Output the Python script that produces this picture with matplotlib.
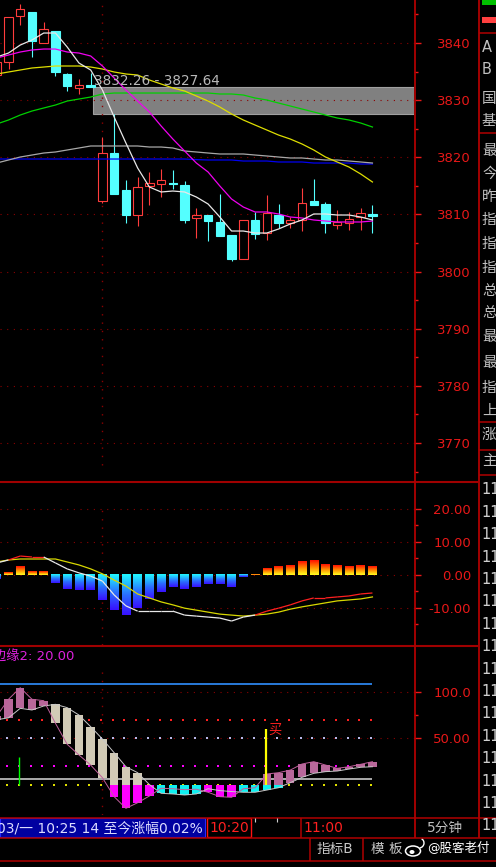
import numpy as np
import matplotlib
matplotlib.use('Agg')
import matplotlib.pyplot as plt
from matplotlib.colors import LinearSegmentedColormap
from matplotlib.collections import LineCollection
from matplotlib.patches import Rectangle, Ellipse, Arc

plt.rcParams['font.family'] = ['DejaVu Sans', 'Noto Sans CJK SC']

# ---- 5 minute bars (bar 0 is cut by the left edge) ----
opens = [3834.40, 3836.68, 3844.73, 3845.43, 3840.00, 3842.10, 3834.58, 3832.13, 3832.65,
         3812.35, 3820.75, 3814.28, 3809.90, 3814.98, 3815.33, 3815.50, 3815.15, 3809.38,
         3809.90, 3808.68, 3806.40, 3802.20, 3809.03, 3806.75, 3809.90, 3808.50, 3809.03,
         3812.35, 3811.83, 3808.15, 3808.50, 3809.55, 3810.08]
highs = [3837.00, 3844.55, 3846.83, 3845.43, 3843.68, 3842.10, 3834.75, 3833.70, 3834.75,
         3823.55, 3827.64, 3816.03, 3816.55, 3817.43, 3817.95, 3817.78, 3815.85, 3811.13,
         3809.90, 3813.58, 3806.40, 3809.03, 3810.43, 3813.40, 3811.83, 3809.55, 3814.63,
         3816.20, 3812.18, 3810.78, 3810.43, 3811.13, 3811.66]
lows = [3834.00, 3835.45, 3843.15, 3837.55, 3840.00, 3834.23, 3831.60, 3831.08, 3832.26,
        3812.00, 3813.58, 3808.50, 3807.98, 3811.66, 3813.05, 3814.45, 3808.50, 3805.88,
        3805.35, 3806.23, 3801.85, 3802.20, 3805.70, 3805.53, 3807.63, 3807.63, 3807.10,
        3811.66, 3806.75, 3807.45, 3807.28, 3807.28, 3806.75]
closes = [3836.70, 3844.55, 3845.95, 3840.35, 3842.45, 3834.93, 3832.48, 3832.65, 3832.26,
          3820.75, 3813.58, 3809.90, 3814.80, 3815.50, 3816.03, 3815.33, 3809.03, 3809.90,
          3808.85, 3806.23, 3802.20, 3809.03, 3806.58, 3810.25, 3808.50, 3809.03, 3812.00,
          3811.66, 3808.50, 3808.68, 3809.20, 3810.25, 3809.73]

ma_white = [3837.55, 3838.25, 3839.65, 3840.53, 3841.75, 3841.75, 3839.30, 3836.50, 3835.28,
            3831.78, 3827.05, 3822.50, 3818.13, 3814.80, 3813.93, 3814.10, 3813.93, 3813.05,
            3811.83, 3809.55, 3807.10, 3807.10, 3806.75, 3806.75, 3807.45, 3808.33, 3809.03,
            3810.08, 3810.08, 3809.90, 3809.90, 3809.55, 3809.03]
ma_magenta = [3837.38, 3837.90, 3838.43, 3838.78, 3838.95, 3838.95, 3838.43, 3838.25, 3837.73,
              3835.98, 3833.88, 3831.78, 3829.85, 3827.93, 3825.48, 3823.20, 3821.10, 3819.00,
              3817.43, 3814.98, 3812.70, 3811.30, 3810.43, 3810.43, 3810.08, 3809.55, 3809.38,
              3809.03, 3808.85, 3808.68, 3808.68, 3808.68, 3808.85]
ma_yellow = [3834.58, 3834.93, 3835.28, 3835.63, 3835.80, 3835.98, 3835.98, 3835.98, 3835.80,
             3835.45, 3834.93, 3834.58, 3834.40, 3833.53, 3832.83, 3832.13, 3831.60, 3830.73,
             3829.85, 3828.80, 3827.58, 3826.53, 3825.65, 3824.78, 3823.90, 3823.20, 3822.33,
             3821.28, 3820.05, 3819.18, 3818.30, 3817.08, 3815.68]
ma_green = [3825.83, 3826.53, 3827.40, 3828.10, 3828.63, 3829.15, 3829.85, 3830.20, 3830.55,
            3831.08, 3831.25, 3831.25, 3831.25, 3831.25, 3831.25, 3831.25, 3831.25, 3831.25,
            3831.25, 3831.08, 3831.08, 3830.90, 3830.38, 3830.03, 3829.50, 3828.98, 3828.45,
            3827.93, 3827.40, 3826.88, 3826.53, 3826.00, 3825.30]
ma_gray = [3819.00, 3819.53, 3820.05, 3820.40, 3820.75, 3820.93, 3821.28, 3821.63, 3821.98,
           3821.98, 3821.98, 3821.98, 3821.98, 3821.80, 3821.80, 3821.63, 3821.10, 3820.93,
           3820.75, 3820.58, 3820.58, 3820.58, 3820.40, 3820.23, 3820.05, 3819.88, 3819.88,
           3819.70, 3819.53, 3819.53, 3819.35, 3819.18, 3819.00]
ma_blue = [3819.70, 3819.70, 3819.70, 3819.70, 3819.70, 3819.70, 3819.70, 3819.70, 3819.70,
           3819.70, 3819.70, 3819.70, 3819.70, 3819.70, 3819.70, 3819.70, 3819.70, 3819.60,
           3819.53, 3819.53, 3819.53, 3819.35, 3819.35, 3819.35, 3819.18, 3819.18, 3819.18,
           3819.00, 3819.00, 3819.00, 3819.00, 3818.83, 3818.83]

gap_bar = 8
gap_hi, gap_lo = 3832.26, 3827.64
cursor_bar = 9

price_ticks = [3770, 3780, 3790, 3800, 3810, 3820, 3830, 3840]

# ---- MACD ----
macd_hist = [-1.5, 0.9, 2.6, 1.0, 1.0, -2.5, -4.4, -4.7, -4.7, -7.7, -10.8, -12.3, -10.1,
             -7.4, -5.2, -3.7, -4.4, -3.7, -2.9, -2.9, -3.7, -0.9, 0.3, 2.1, 2.6, 2.9, 4.1,
             4.4, 3.2, 2.9, 2.6, 2.9, 2.6]
dif = [3.5, 4.4, 5.6, 5.3, 5.3, 3.5, 1.7, 0.5, -0.5, -2.0, -6.2, -9.5, -11.1, -11.1, -11.1,
       -11.1, -12.3, -12.6, -12.9, -13.2, -14.1, -12.9, -12.3, -11.1, -10.2, -9.2, -8.0, -7.1,
       -7.1, -6.8, -6.5, -5.9, -5.6]
dea = [3.8, 4.4, 4.7, 4.7, 4.7, 4.7, 3.8, 2.9, 1.7, 0.2, -1.7, -3.5, -5.9, -7.1, -8.3, -9.2,
       -10.2, -10.8, -11.4, -12.0, -12.3, -12.6, -12.3, -12.0, -11.4, -10.5, -9.8, -9.2, -8.6,
       -8.0, -7.7, -7.4, -6.8]

# ---- third indicator ----
osc_fast = [74, 91.9, 104.3, 91.9, 90.4, 66.1, 43.6, 32.2, 21.4, 7.8, -12.5, -25, -19, -11.8,
            -3.5, -4, -5, -4.5, -7.8, -12.5, -13.2, -4, -3, 11.8, 13.2, 16, 22.5, 25, 21.4,
            17.9, 19.6, 22.2, 25]
osc_slow = [70, 72, 82.2, 80.4, 84.7, 86.5, 82.9, 75, 62.5, 49.3, 34.6, 19.6, 13.2, 0.5,
            -8.9, -9.6, -10.7, -9.6, -4, -6, -7, -7.8, -7.8, -5.4, -2.9, 2.5, 8.2, 12.5, 14.3,
            15, 17.1, 19, 19.6]
dot_levels = [70, 50, 20, 0]
dot_colors = ['#ff2020', '#b8b8e8', '#ff00ff', '#e0e000']
upper_level = 108
base_level = 6
buy_bar, buy_level = 23, 60
sell_bar, sell_level = 2, 30

idx = np.arange(len(closes))

# ---- layout (pixels) ----
W, H = 496, 867
BAR_PX = 11.74
X0_PX = -3.24
PLOT_R = 414
XL = (0 - X0_PX) / BAR_PX
XR = (PLOT_R - X0_PX) / BAR_PX
RED = '#e81818'
FRAME = '#b00000'
GRID = '#8c0000'
BW = 0.72

fig = plt.figure(figsize=(W / 100, H / 100), dpi=100, facecolor='black')


def panel(top, bottom):
    return fig.add_axes([0, 1 - bottom / H, PLOT_R / W, (bottom - top) / H])


def style(ax, ylim, major, labels, minor):
    ax.set_facecolor('black')
    for s in ax.spines.values():
        s.set_visible(False)
    ax.set_xticks([])
    ax.yaxis.tick_right()
    ax.set_yticks(major)
    ax.set_yticklabels(labels)
    ax.set_yticks(minor, minor=True)
    ax.tick_params(axis='y', which='major', length=5, width=1, color=RED,
                   labelcolor=RED, labelsize=9.5, pad=36)
    ax.tick_params(axis='y', which='minor', length=3, width=1, color=RED)
    for t in ax.get_yticklabels():
        t.set_ha('right')
    ax.grid(axis='y', which='major', color=GRID, lw=0.8, ls=(0, (1, 5)))
    ax.set_xlim(XL, XR)
    ax.set_ylim(*ylim)


# ================= main price panel =================
ax = panel(0, 481)
style(ax, (3763.35, 3847.53), price_ticks, [str(v) for v in price_ticks],
      [v - 5 for v in price_ticks] + [3845])
ax.axvline(cursor_bar, 0.033, 1, color=GRID, lw=1, ls=(0, (1, 5)))

ax.add_patch(Rectangle((gap_bar + 0.2, gap_lo), XR - gap_bar, gap_hi - gap_lo,
                       fc='#808080', ec='#a0a0a0', lw=0.8, zorder=1.5))
ax.text(gap_bar + 0.28, 3832.7, '%.2f - %.2f' % (gap_hi, gap_lo), color='#b8b8b8',
        fontsize=9.8, ha='left', va='baseline', zorder=6)

for i, o, h, l, c in zip(idx, opens, highs, lows, closes):
    up = c >= o
    col = '#ff3c3c' if up else '#54ffff'
    b0, b1 = min(o, c), max(o, c)
    ax.vlines(i, l, b0, color=col, lw=0.8, zorder=3)
    ax.vlines(i, b1, h, color=col, lw=0.8, zorder=3)
    ax.add_patch(Rectangle((i - BW / 2, b0), BW, b1 - b0, fc='black' if up else col,
                           ec=col, lw=0.8, zorder=3))

for series, col in [(ma_blue, '#0000f0'), (ma_gray, '#a8a8a8'), (ma_green, '#00d000'),
                    (ma_yellow, '#dede00'), (ma_magenta, '#f000f0'), (ma_white, '#e8e8e8')]:
    ax.plot(idx, series, color=col, lw=0.9, zorder=4)

# ================= MACD panel =================
ax2 = panel(482, 645)
style(ax2, (-21.36, 28.03), [-10, 0, 10, 20], ['-10.00', '0.00', '10.00', '20.00'],
      [-15, -5, 5, 15])
ax2.axvline(cursor_bar, 0, 0.85, color=GRID, lw=1, ls=(0, (1, 5)))
grad = np.linspace(0, 1, 64).reshape(-1, 1)
cm_up = LinearSegmentedColormap.from_list('up', ['#ffff20', '#ff9000', '#ff1000'])
cm_dn = LinearSegmentedColormap.from_list('dn', ['#3810ff', '#2a70ff', '#20f8ff'])
for i, v in zip(idx, macd_hist):
    if v >= 0:
        ax2.imshow(grad, extent=[i - BW / 2, i + BW / 2, 0, v], origin='lower', cmap=cm_up,
                   aspect='auto', zorder=2)
    else:
        ax2.imshow(grad, extent=[i - BW / 2, i + BW / 2, v, 0], origin='lower', cmap=cm_dn,
                   aspect='auto', zorder=2)
ax2.plot(idx, dea, color='#d8d800', lw=0.9, zorder=3)
pts = np.column_stack([idx, dif])
segs = [pts[k:k + 2] for k in range(len(idx) - 1)]
cols = ['#ff2020' if dif[k] + dif[k + 1] >= dea[k] + dea[k + 1] else '#e8e8e8'
        for k in range(len(idx) - 1)]
ax2.add_collection(LineCollection(segs, colors=cols, linewidths=0.9, zorder=4))
ax2.set_xlim(XL, XR)
ax2.set_ylim(-21.36, 28.03)

# ================= third panel =================
ax3 = panel(646, 815)
style(ax3, (-32.15, 149.0), [50, 100], ['50.00', '100.0'], [75])
ax3.axvline(cursor_bar, 0, 0.86, color=GRID, lw=1, ls=(0, (1, 5)))
ax3.hlines(upper_level, XL, idx[-1], color='#2f90ff', lw=1.2, zorder=2)
ax3.hlines(base_level, XL, idx[-1], color='#c8c8c8', lw=1.2, zorder=2)
for lev, col in zip(dot_levels, dot_colors):
    ax3.plot(idx - 0.12, [lev] * len(idx), ls='none', marker='s', ms=1.7, mew=0,
             color=col, zorder=2)
for i, f, s in zip(idx, osc_fast, osc_slow):
    rising = f >= s
    hi, lo = max(f, s), min(f, s)
    if hi > 0:
        b = max(lo, 0)
        ax3.add_patch(Rectangle((i - BW / 2, b), BW, hi - b,
                                fc='#b8689a' if rising else '#d2cbb6', ec='none', zorder=3))
    if lo < 0:
        ax3.add_patch(Rectangle((i - BW / 2, lo), BW, -lo,
                                fc='#10f0f0' if rising else '#ff00ff', ec='none', zorder=3))
ax3.plot(idx, osc_slow, color='#c8c8c8', lw=0.7, zorder=4)
ax3.plot(idx, osc_fast, color='#c0609c', lw=0.7, zorder=4)
ax3.vlines(sell_bar - 0.07, 0, sell_level, color='#00ff00', lw=1, zorder=5)
ax3.vlines(buy_bar - 0.07, 0, buy_level, color='#ffff00', lw=1.6, zorder=5)
ax3.text(buy_bar + 0.1, buy_level - 1, '买', color='#ff2020', fontsize=9.5,
         ha='left', va='center', zorder=6)

# ================= frame, bottom bars, side column =================
ov = fig.add_axes([0, 0, 1, 1], zorder=10)
ov.set_xlim(0, W)
ov.set_ylim(H, 0)
ov.axis('off')
ov.patch.set_visible(False)

ov.text(-7.3, 657, '边缘2: 20.00', color='#dd22dd', fontsize=9.5, ha='left', va='center')

for y in [481.5, 645.5]:
    ov.hlines(y, 0, 478, color='#a00000', lw=1.5)
for y in [817.5, 837.5, 860.5]:
    ov.hlines(y, 0, W, color=FRAME, lw=1.1)
ov.vlines(414.5, 0, 837.5, color=FRAME, lw=1.3)
ov.vlines(478.5, 0, 837.5, color=FRAME, lw=1.3)
for y in [33, 133, 422, 450, 475]:
    ov.hlines(y, 478.5, W, color=FRAME, lw=1.1)
ov.vlines(300.5, 817.5, 837.5, color=FRAME, lw=1.1)
ov.vlines([309.5, 362.5], 837.5, 860.5, color=FRAME, lw=1.1)

ov.add_patch(Rectangle((482, 0), 14, 5, fc='#00c000', ec='none'))
ov.add_patch(Rectangle((482, 17), 14, 6, fc='#ff4040', ec='none'))

side_chars = ['A', 'B', '国', '基', '最', '今', '昨', '指', '指', '指', '总', '总', '最', '最',
              '指', '上', '涨', '主']
side_y = [47, 70, 98, 121, 150, 173, 196, 219, 243, 267, 290, 312, 337, 362, 387, 410, 434, 460]
for ch, y in zip(side_chars, side_y):
    ov.text(482, y, ch, color='#c0c0c0', fontsize=10.5, ha='left', va='center')
for k in range(16):
    ov.text(481, 490 + 22.4 * k, '11', color='#d0d0d0', fontsize=10.5, ha='left', va='center')

ov.add_patch(Rectangle((0, 818), 205, 19, fc='#0000a0', ec='#2828ff', lw=0.8))
ov.text(-3, 828, '03/一 10:25 14 至今涨幅0.02%', color='#dcdcff', fontsize=10,
        ha='left', va='center')
ov.add_patch(Rectangle((207, 818), 44, 19, fc='none', ec='#ff1010', lw=1))
ov.text(209.5, 828, '10:20', color='#ff2020', fontsize=10, ha='left', va='center')
ov.text(303, 828, '11:00', color='#ff2020', fontsize=10, ha='left', va='center')
ov.vlines([255, 277], 818, 822, color='#d0d0d0', lw=0.8)
ov.text(427, 828, '5分钟', color='#c0c0c0', fontsize=9.8, ha='left', va='center')

ov.text(317, 849, '指标B', color='#c8c8c8', fontsize=9.8, ha='left', va='center')
ov.text(371, 849, '模 板', color='#c8c8c8', fontsize=9.8, ha='left', va='center')
ov.add_patch(Ellipse((413, 851), 15, 10, fill=False, ec='white', lw=1.1))
ov.add_patch(Ellipse((412, 852), 5, 4, fill=True, fc='white', ec='none'))
ov.add_patch(Arc((419, 843), 10, 10, theta1=-60, theta2=80, ec='white', lw=1))
ov.text(427, 849, '@股客老付', color='white', fontsize=9, ha='left', va='center')

fig.savefig('out.png', dpi=100, facecolor='black')
